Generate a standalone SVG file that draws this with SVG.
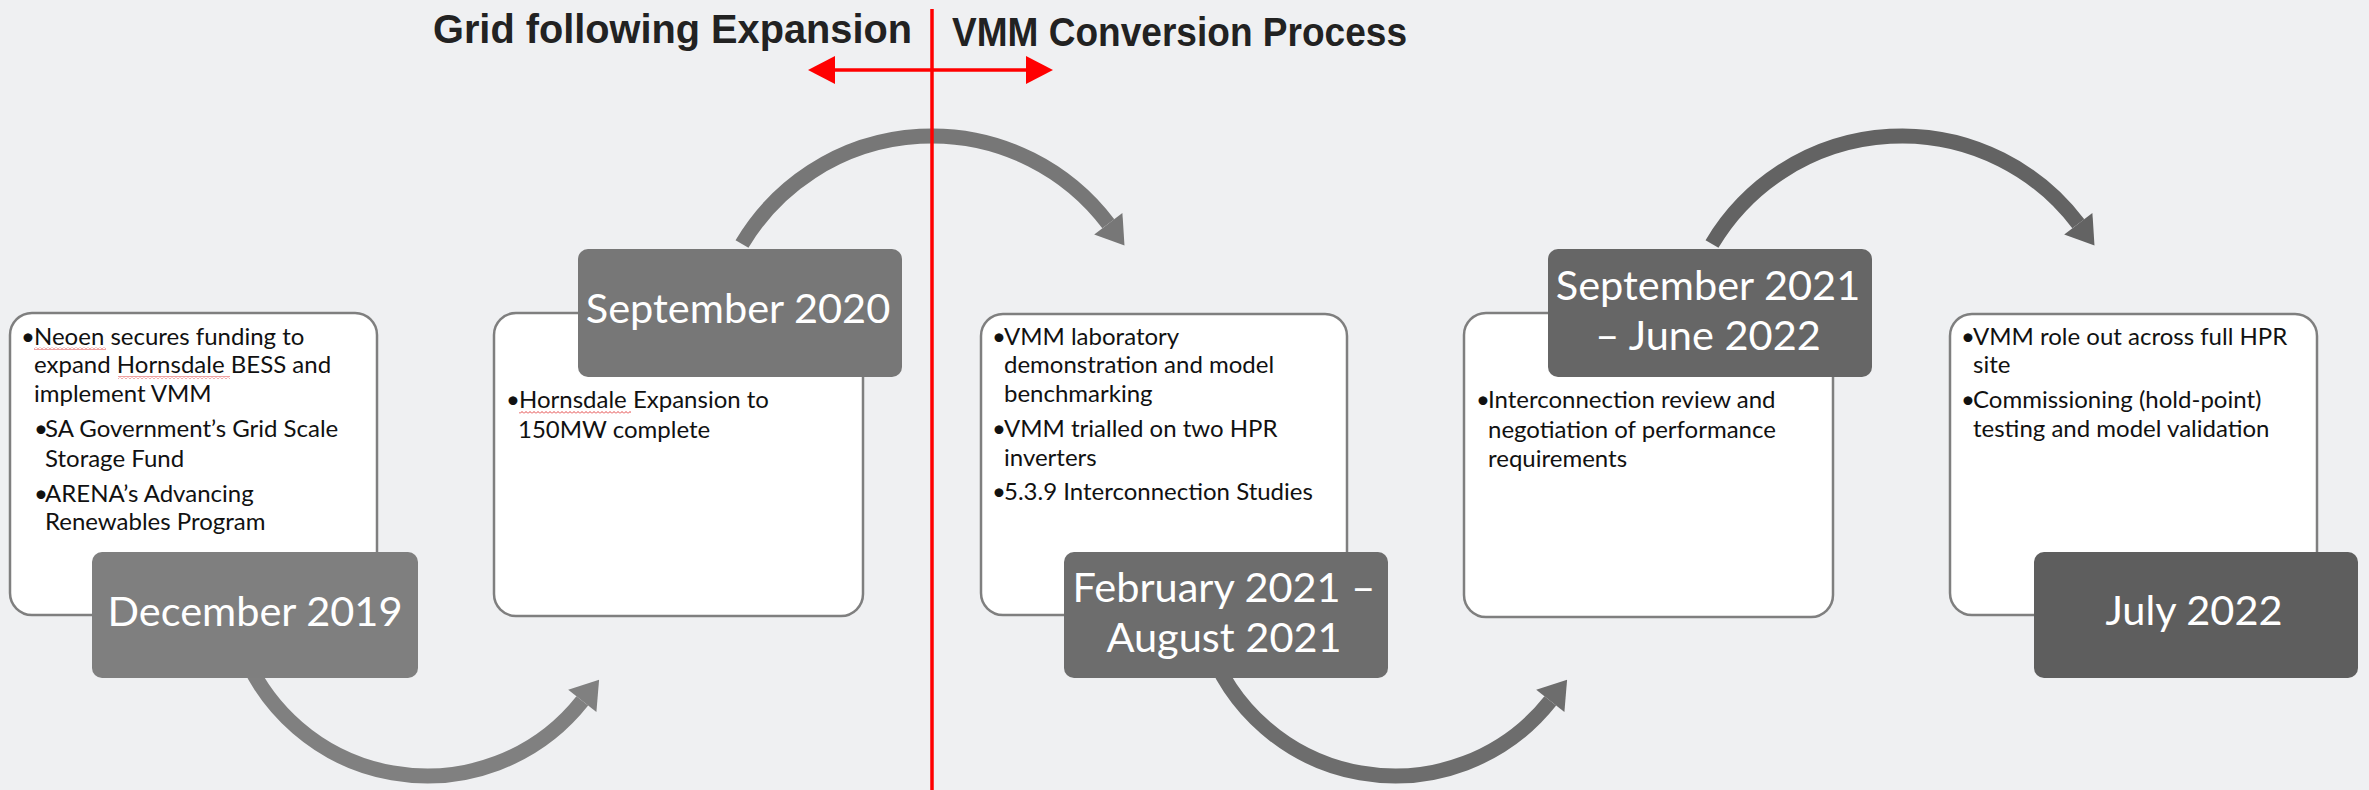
<svg xmlns="http://www.w3.org/2000/svg" width="2369" height="790" viewBox="0 0 2369 790">
  <style>
    .card { fill: #ffffff; stroke: #7f7f7f; stroke-width: 2.5; }
    .date { fill: #ffffff; font-family: Lato, "Open Sans", sans-serif; font-size: 41.5px; text-anchor: middle; }
    .body { fill: #111111; font-family: Lato, "Open Sans", sans-serif; font-size: 24px; }
    .title { fill: #222222; font-family: "Liberation Sans", Arial, sans-serif; font-size: 40px; font-weight: bold; }
    .flow { fill: none; stroke-width: 15; stroke-linecap: butt; }
    .divider { stroke: #ff0000; stroke-width: 3.5; fill: none; }
    .squiggle { fill: url(#wavy); }
  </style>
  <defs>
    <pattern id="wavy" width="4" height="3" patternUnits="userSpaceOnUse">
      <path d="M0 2.5 L2 0.5 L4 2.5" stroke="#e03030" stroke-width="0.9" fill="none"/>
    </pattern>
  </defs>

  <rect width="2369" height="790" fill="#eff0f2"/>

  <!-- curved flow arrows between milestones -->
  <g id="connectors">
    <g id="arc-1" fill="#808080" stroke="#808080">
      <path class="flow" d="M 239 640 A 198 198 0 0 0 582.3 700.9"/>
      <polygon stroke="none" points="599.1,679.7 596.4,712.1 568.2,689.7"/>
    </g>
    <g id="arc-2" fill="#777777" stroke="#777777">
      <path class="flow" d="M 742 244 A 221 221 0 0 1 1108.3 223.8"/>
      <polygon stroke="none" points="1124.5,245.5 1122.4,213 1094.2,234.6"/>
    </g>
    <g id="arc-3" fill="#6d6d6d" stroke="#6d6d6d">
      <path class="flow" d="M 1207 640 A 198 198 0 0 0 1550.3 700.9"/>
      <polygon stroke="none" points="1567.1,679.7 1564.4,712.1 1536.2,689.7"/>
    </g>
    <g id="arc-4" fill="#636363" stroke="#636363">
      <path class="flow" d="M 1712 244 A 221 221 0 0 1 2078.3 223.8"/>
      <polygon stroke="none" points="2094.5,245.5 2092.4,213 2064.2,234.6"/>
    </g>
  </g>

  <!-- phase divider -->
  <g id="phase-divider">
    <line class="divider" x1="932" y1="9" x2="932" y2="790"/>
    <line class="divider" x1="826" y1="70" x2="1036" y2="70" stroke-width="4"/>
    <polygon fill="#ff0000" points="808,70 835,56 835,84"/>
    <polygon fill="#ff0000" points="1053,70 1026,56 1026,84"/>
    <text class="title" x="433" y="43" textLength="479" lengthAdjust="spacingAndGlyphs">Grid following Expansion</text>
    <text class="title" x="952" y="46" textLength="455" lengthAdjust="spacingAndGlyphs">VMM Conversion Process</text>
  </g>

  <g id="node-dec-2019">
    <rect class="card" x="10" y="313" width="367" height="302" rx="22"/>
    <text class="body" x="21" y="345">•</text>
    <text class="body" x="34" y="345">Neoen secures funding to</text>
    <text class="body" x="34" y="373">expand Hornsdale BESS and</text>
    <text class="body" x="34" y="402">implement VMM</text>
    <text class="body" x="34" y="437">•</text>
    <text class="body" x="45" y="437">SA Government’s Grid Scale</text>
    <text class="body" x="45" y="467">Storage Fund</text>
    <text class="body" x="34" y="502">•</text>
    <text class="body" x="45" y="502">ARENA’s Advancing</text>
    <text class="body" x="45" y="530">Renewables Program</text>
    <rect class="squiggle" x="34" y="347" width="72" height="3"/>
    <rect class="squiggle" x="118" y="376" width="112" height="3"/>
    <rect x="92" y="552" width="326" height="126" rx="10" fill="#7f7f7f"/>
    <text class="date" x="255" y="626">December 2019</text>
  </g>

  <g id="node-sep-2020">
    <rect class="card" x="494" y="313" width="369" height="303" rx="22"/>
    <text class="body" x="506" y="408">•</text>
    <text class="body" x="519" y="408">Hornsdale Expansion to</text>
    <text class="body" x="518" y="438">150MW complete</text>
    <rect class="squiggle" x="519" y="411" width="112" height="3"/>
    <rect x="578" y="249" width="324" height="128" rx="10" fill="#777777"/>
    <text class="date" x="738" y="323">September 2020</text>
  </g>

  <g id="node-feb-aug-2021">
    <rect class="card" x="981" y="314" width="366" height="301" rx="22"/>
    <text class="body" x="992" y="345">•</text>
    <text class="body" x="1004" y="345">VMM laboratory</text>
    <text class="body" x="1004" y="373">demonstration and model</text>
    <text class="body" x="1004" y="402">benchmarking</text>
    <text class="body" x="992" y="437">•</text>
    <text class="body" x="1004" y="437">VMM trialled on two HPR</text>
    <text class="body" x="1004" y="466">inverters</text>
    <text class="body" x="992" y="500">•</text>
    <text class="body" x="1004" y="500">5.3.9 Interconnection Studies</text>
    <rect x="1064" y="552" width="324" height="126" rx="10" fill="#6d6d6d"/>
    <text class="date" x="1224" y="602">February 2021 –</text>
    <text class="date" x="1224" y="652">August 2021</text>
  </g>

  <g id="node-sep-2021-jun-2022">
    <rect class="card" x="1464" y="313" width="369" height="304" rx="22"/>
    <text class="body" x="1476" y="408">•</text>
    <text class="body" x="1488" y="408">Interconnection review and</text>
    <text class="body" x="1488" y="438">negotiation of performance</text>
    <text class="body" x="1488" y="467">requirements</text>
    <rect x="1548" y="249" width="324" height="128" rx="10" fill="#666666"/>
    <text class="date" x="1708" y="300">September 2021</text>
    <text class="date" x="1708" y="350">– June 2022</text>
  </g>

  <g id="node-jul-2022">
    <rect class="card" x="1950" y="314" width="367" height="301" rx="22"/>
    <text class="body" x="1961" y="345">•</text>
    <text class="body" x="1973" y="345">VMM role out across full HPR</text>
    <text class="body" x="1973" y="373">site</text>
    <text class="body" x="1961" y="408">•</text>
    <text class="body" x="1973" y="408">Commissioning (hold-point)</text>
    <text class="body" x="1973" y="437">testing and model validation</text>
    <rect x="2034" y="552" width="324" height="126" rx="10" fill="#5e5e5e"/>
    <text class="date" x="2194" y="625">July 2022</text>
  </g>
</svg>
